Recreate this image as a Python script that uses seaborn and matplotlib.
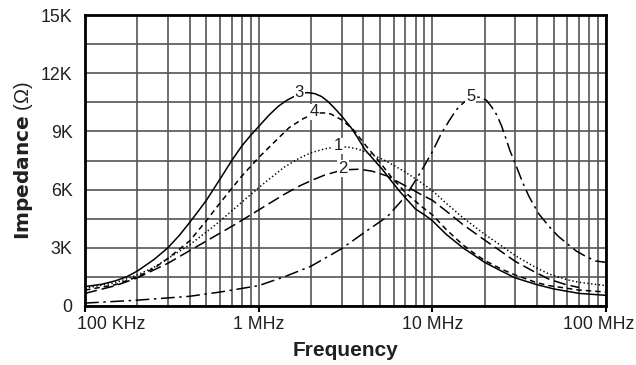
import numpy as np
import pandas as pd
import matplotlib
matplotlib.use("Agg")
import matplotlib.pyplot as plt
import matplotlib.transforms as mtrans
import seaborn as sns
from matplotlib.ticker import FixedLocator, NullFormatter, LogLocator

# ---- data (frequency in MHz, impedance in kOhm) ----
freq_1 = [0.1, 0.15, 0.2, 0.25, 0.3, 0.4, 0.55, 0.7, 0.9, 1.1, 1.4, 1.7, 2.0, 2.4, 2.8, 3.2, 3.7, 4.1, 5.2, 6.0, 7.0, 8.5, 10, 12, 15, 20, 25, 30, 40, 47, 60, 70, 100]
imp_1 = [0.92, 1.2, 1.6, 2.0, 2.45, 3.15, 4.1, 4.9, 5.75, 6.4, 7.15, 7.6, 7.9, 8.1, 8.2, 8.2, 8.1, 7.95, 7.55, 7.25, 6.9, 6.4, 5.95, 5.3, 4.55, 3.7, 3.1, 2.6, 1.95, 1.65, 1.35, 1.22, 1.05]

freq_2 = [0.1, 0.15, 0.2, 0.3, 0.4, 0.5, 0.73, 1.0, 1.4, 1.73, 2.05, 2.4, 2.8, 3.3, 3.8, 4.5, 5.5, 6.5, 7.5, 8.6, 10, 12, 15, 20, 25, 30, 38, 47, 58, 70]
imp_2 = [0.65, 1.05, 1.45, 2.2, 2.85, 3.35, 4.2, 4.95, 5.75, 6.2, 6.5, 6.75, 6.92, 7.03, 7.05, 6.95, 6.7, 6.35, 6.05, 5.75, 5.45, 4.9, 4.2, 3.4, 2.8, 2.3, 1.8, 1.38, 1.12, 0.95]

freq_3 = [0.1, 0.125, 0.15, 0.175, 0.2, 0.25, 0.3, 0.35, 0.4, 0.45, 0.5, 0.6, 0.7, 0.8, 0.9, 1.0, 1.15, 1.3, 1.45, 1.6, 1.75, 1.9, 2.1, 2.3, 2.5, 2.7, 3.0, 3.4, 3.7, 4.1, 5.2, 5.8, 6.5, 7.2, 8.0, 9.0, 10, 12, 15, 17.5, 20, 25, 30, 40, 50, 70, 100]
imp_3 = [1.0, 1.12, 1.3, 1.52, 1.8, 2.4, 3.0, 3.65, 4.3, 4.9, 5.45, 6.55, 7.5, 8.25, 8.8, 9.25, 9.85, 10.3, 10.6, 10.8, 10.95, 11.0, 10.95, 10.8, 10.55, 10.25, 9.8, 9.2, 8.7, 8.05, 7.0, 6.45, 5.9, 5.45, 5.0, 4.7, 4.4, 3.7, 3.0, 2.6, 2.25, 1.8, 1.45, 1.1, 0.88, 0.65, 0.55]

freq_4 = [0.1, 0.15, 0.2, 0.25, 0.3, 0.4, 0.5, 0.58, 0.67, 0.8, 0.9, 1.0, 1.2, 1.35, 1.5, 1.8, 2.0, 2.2, 2.4, 2.6, 3.0, 3.5, 4.2, 5.0, 5.8, 7.0, 8.6, 10, 12, 15, 17.5, 20, 25, 30, 40, 47, 70, 100]
imp_4 = [0.82, 1.1, 1.5, 1.95, 2.45, 3.35, 4.4, 5.15, 5.85, 6.7, 7.2, 7.65, 8.35, 8.8, 9.2, 9.65, 9.85, 9.95, 9.95, 9.9, 9.6, 9.1, 8.2, 7.4, 6.65, 5.85, 5.15, 4.7, 3.95, 3.15, 2.7, 2.35, 1.9, 1.6, 1.2, 1.05, 0.82, 0.72]

freq_5 = [0.1, 0.2, 0.4, 0.6, 1.0, 1.4, 2.0, 3.0, 4.0, 5.5, 7.0, 8.5, 10, 11.2, 12.5, 13.7, 15, 16, 17.5, 19, 20.5, 22, 23.5, 25, 26.5, 28, 30, 33, 36, 41, 47, 53, 60, 67, 75, 87, 100]
imp_5 = [0.15, 0.3, 0.5, 0.72, 1.05, 1.5, 2.05, 2.95, 3.75, 4.6, 5.65, 6.85, 7.95, 8.85, 9.55, 10.1, 10.45, 10.65, 10.78, 10.75, 10.6, 10.25, 9.85, 9.3, 8.65, 8.0, 7.35, 6.4, 5.65, 4.75, 4.1, 3.6, 3.2, 2.85, 2.6, 2.32, 2.25]

curve_names = ["1", "2", "3", "4", "5"]
label_freq = [2.86, 3.06, 1.71, 2.08, 16.6]
label_imp = [8.25, 7.1, 11.0, 10.0, 10.8]

x_tick_values = [0.1, 1, 10, 100]
x_tick_labels = ["100 KHz", "1 MHz", "10 MHz", "100 MHz"]
y_tick_values = [0, 3, 6, 9, 12, 15]
y_tick_labels = ["0", "3K", "6K", "9K", "12K", "15K"]

# ---- build long table ----
frames = []
for name, f, v in zip(curve_names, [freq_1, freq_2, freq_3, freq_4, freq_5],
                      [imp_1, imp_2, imp_3, imp_4, imp_5]):
    frames.append(pd.DataFrame({"freq": f, "imp": v, "curve": name}))
df = pd.concat(frames, ignore_index=True)

sns.set_style("white")
plt.rcParams["font.family"] = ["Liberation Sans", "DejaVu Sans"]

ink = "#231f20"
fig = plt.figure(figsize=(6.36, 3.65), dpi=100)
ax = fig.add_axes([85 / 636, 1 - 306 / 365, (606 - 85) / 636, (306 - 15) / 365])
ax.set_xscale("log")

dash_map = {
    "1": (0.9, 1.6),
    "2": (8, 3.2),
    "3": "",
    "4": (3.6, 2.6),
    "5": (9, 3, 1.6, 3),
}
sns.lineplot(data=df, x="freq", y="imp", style="curve", dashes=dash_map,
             color="black", linewidth=1.1, estimator=None, sort=False,
             legend=False, ax=ax, zorder=3)

ax.set_xlim(0.1, 100)
ax.set_ylim(0, 15)

# grid
ax.xaxis.set_major_locator(FixedLocator(x_tick_values))
ax.xaxis.set_minor_locator(LogLocator(base=10, subs=np.arange(2, 10), numticks=20))
ax.xaxis.set_minor_formatter(NullFormatter())
ax.set_xticklabels(x_tick_labels)
ax.set_yticks(y_tick_values)
ax.set_yticklabels(y_tick_labels)
ax.set_yticks(np.arange(0, 15.01, 1.5), minor=True)
ax.grid(True, which="both", axis="both", color="#555555", linewidth=1.2, zorder=1)
ax.set_axisbelow(True)

ax.tick_params(axis="x", which="major", length=4, width=1.5, color="black",
               direction="out", pad=3, labelsize=12.8, labelcolor=ink, bottom=True)
ax.tick_params(axis="x", which="minor", length=0)
ax.tick_params(axis="y", which="both", length=0, pad=9, labelsize=12.8, labelcolor=ink)

# first / last x labels pulled inward as in the reference
xl = ax.get_xticklabels()
xl[0].set_horizontalalignment("left")
xl[0].set_transform(xl[0].get_transform() + mtrans.ScaledTranslation(-8 / 100, 0, fig.dpi_scale_trans))
xl[-1].set_horizontalalignment("right")
xl[-1].set_transform(xl[-1].get_transform() + mtrans.ScaledTranslation(28 / 100, 0, fig.dpi_scale_trans))

for s in ax.spines.values():
    s.set_visible(True)
    s.set_color("black")
    s.set_linewidth(2)

ax.set_xlabel("Frequency", fontsize=15, fontweight="bold", color=ink, labelpad=6)
ax.set_ylabel(r"$\bf{Impedance}$ (Ω)", fontsize=14.5, color=ink, labelpad=4)

for name, fx, fy in zip(curve_names, label_freq, label_imp):
    ax.text(fx, fy, name, ha="center", va="center", fontsize=12, color=ink, zorder=5,
            bbox=dict(facecolor="white", edgecolor="none", pad=0.6))

fig.savefig("out.png", dpi=100)
